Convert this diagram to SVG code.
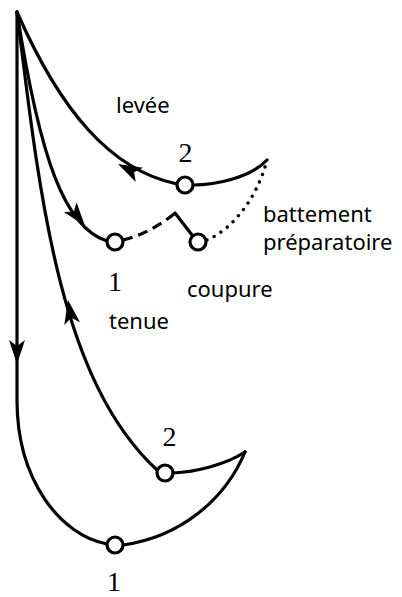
<svg xmlns="http://www.w3.org/2000/svg" width="402" height="597" viewBox="0 0 402 597">
<style>
.c{fill:none;stroke:#000;stroke-width:3.2;stroke-linecap:round}
.d{stroke-dasharray:10 6;stroke-linecap:butt}
.o{stroke-dasharray:0 8;stroke-width:3.6}
.n{fill:#fff;stroke:#000;stroke-width:3.2}
.w{font-family:"Noto Sans",sans-serif;font-size:22px;fill:#000}
.g{font-family:"Liberation Serif",serif;font-size:28px;fill:#000;text-anchor:middle}
</style>
<defs>
<path id="ah" d="M0,0 L-24,-8 L-18,0 L-24,8 Z" fill="#000"/>
</defs>
<g id="connectors">
<path class="c" d="M17,12 L17,400 C17,480 60,535 107,544"/>
<path class="c" d="M123,545 C180,537 225,500 245,452"/>
<path class="c" d="M245,452 C225,465 195,472 173,473"/>
<path class="c" d="M17,12 C40,200 60,380 157,470"/>
<path class="c" d="M17,12 C60,110 110,170 177,184"/>
<path class="c" d="M193,185 C215,185 250,178 267,160"/>
<path class="c" d="M17,12 C40,160 65,228 107,241"/>
<path class="c d" d="M123,240 C140,236 160,226 175,213"/>
<path class="c" d="M175,213 L192,235"/>
<path class="c o" d="M207,240 C235,228 258,195 267,160"/>
<use href="#ah" transform="translate(17,364) rotate(90)"/>
<use href="#ah" transform="translate(68,300) rotate(-100)"/>
<use href="#ah" transform="translate(118,164) rotate(-153)"/>
<use href="#ah" transform="translate(85,226) rotate(52)"/>
</g>
<g id="n-up2"><circle class="n" cx="185" cy="185" r="8"/><text class="g" x="185.5" y="162">2</text></g>
<g id="n-up1"><circle class="n" cx="115" cy="242" r="8"/><text class="g" x="115" y="291">1</text></g>
<g id="n-coupure"><circle class="n" cx="198" cy="242" r="8"/><text class="w" x="187" y="297">coupure</text></g>
<g id="n-low2"><circle class="n" cx="165" cy="473" r="8"/><text class="g" x="169.5" y="446">2</text></g>
<g id="n-low1"><circle class="n" cx="115" cy="545" r="8"/><text class="g" x="114" y="591">1</text></g>
<g id="labels">
<text class="w" x="116" y="113">levée</text>
<text class="w" x="263" y="222">battement</text>
<text class="w" x="263" y="250">préparatoire</text>
<text class="w" x="109" y="329">tenue</text>
</g>
</svg>
